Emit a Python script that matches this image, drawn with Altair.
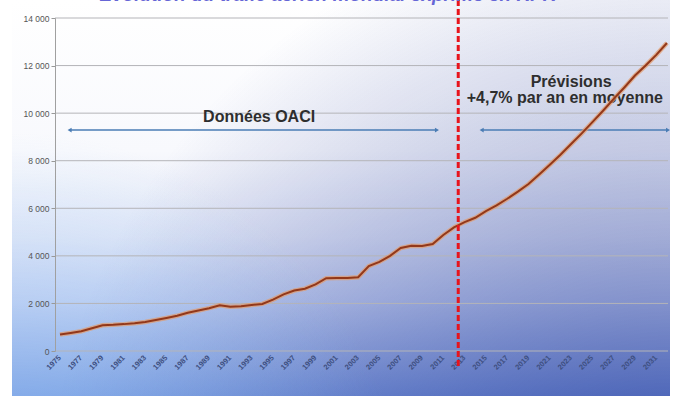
import altair as alt
import pandas as pd

# ---- data ----
years = list(range(1975, 2033))
rpk = [690, 760, 830, 960, 1080, 1100, 1130, 1170, 1220, 1300,
       1390, 1480, 1610, 1700, 1800, 1920, 1860, 1880, 1930, 1980,
       2160, 2380, 2540, 2620, 2800, 3060, 3070, 3070, 3100, 3570,
       3750, 4000, 4330, 4420, 4410, 4500, 4880, 5200, 5420, 5600,
       5880, 6120, 6400, 6700, 7020, 7420, 7830, 8250, 8700, 9150,
       9620, 10100, 10600, 11080, 11580, 12000, 12450, 12950]
x_tick_years = list(range(1975, 2032, 2))
x_tick_labels = [str(y) for y in x_tick_years]
y_ticks = [0, 2000, 4000, 6000, 8000, 10000, 12000, 14000]

title_text = "Évolution du trafic aérien mondial exprimé en RPK"
split_year = 2012.4
arrow_level = 9290
arrow_starts = [1975.9, 2014.6]
arrow_ends = [2010.4, 2032.1]
label_texts = ["Données OACI", "Prévisions", "+4,7% par an en moyenne"]
label_years = [1993.7, 2023.0, 2013.2]
label_values = [9626, 11097, 10425]
label_aligns = ["center", "center", "left"]

W, H = 613, 333
xdom = [1974.53, 2032.1]
ydom = [0, 14000]

xs = alt.Scale(domain=xdom, nice=False, zero=False)
ys = alt.Scale(domain=ydom, nice=False)

series = pd.DataFrame({"year": years, "rpk": rpk})
one = pd.DataFrame({"a": [0]})

# background gradient
base_grad = alt.LinearGradient(
    gradient="linear", x1=0, y1=0, x2=0, y2=1,
    stops=[alt.GradientStop(color="#ffffff", offset=0),
           alt.GradientStop(color="#f8f9fd", offset=0.38),
           alt.GradientStop(color="#e1e6f6", offset=0.6),
           alt.GradientStop(color="#c3cff0", offset=0.76),
           alt.GradientStop(color="#9cb1e5", offset=0.9),
           alt.GradientStop(color="#7b98dc", offset=1)])
dark_grad = alt.RadialGradient(
    gradient="radial", x1=1, y1=1, r1=0, x2=1, y2=1, r2=0.95,
    stops=[alt.GradientStop(color="rgba(35,55,150,0.62)", offset=0),
           alt.GradientStop(color="rgba(35,55,150,0)", offset=1)])
light_grad = alt.RadialGradient(
    gradient="radial", x1=0, y1=1, r1=0, x2=0, y2=1, r2=0.6,
    stops=[alt.GradientStop(color="rgba(150,205,255,0.55)", offset=0),
           alt.GradientStop(color="rgba(150,205,255,0)", offset=1)])

def bg(fill):
    return alt.Chart(one).mark_rect(fill=fill, strokeWidth=0).encode(
        x=alt.value(-43), x2=alt.value(W + 2), y=alt.value(-18), y2=alt.value(H + 45))

background = bg(base_grad) + bg(dark_grad) + bg(light_grad)

grid = alt.Chart(pd.DataFrame({"v": y_ticks})).mark_rule(
    color="#b4b4b8", strokeWidth=1).encode(
    y=alt.Y("v:Q", scale=ys), x=alt.value(0), x2=alt.value(W))

arrows_df = pd.DataFrame({"s": arrow_starts, "e": arrow_ends,
                          "v": [arrow_level] * 2})
arrow_lines = alt.Chart(arrows_df).mark_rule(
    color="#4a7cb4", strokeWidth=1.6).encode(
    x=alt.X("s:Q", scale=xs), x2="e:Q", y=alt.Y("v:Q", scale=ys))
head_l = alt.Chart(arrows_df).mark_point(
    shape="triangle-left", filled=True, color="#4a7cb4", size=22, opacity=1).encode(
    x=alt.X("s:Q", scale=xs), y=alt.Y("v:Q", scale=ys))
head_r = alt.Chart(arrows_df).mark_point(
    shape="triangle-right", filled=True, color="#4a7cb4", size=22, opacity=1).encode(
    x=alt.X("e:Q", scale=xs), y=alt.Y("v:Q", scale=ys))

lab_df = pd.DataFrame({"t": label_texts, "x": label_years, "y": label_values})
texts = []
for i in range(len(label_texts)):
    texts.append(alt.Chart(lab_df.iloc[[i]]).mark_text(
        font="Liberation Sans", fontSize=16, fontWeight="bold", color="#2e2e2e",
        align=label_aligns[i], baseline="alphabetic", clip=True).encode(
        x=alt.X("x:Q", scale=xs), y=alt.Y("y:Q", scale=ys), text="t:N"))

# x tick labels (every 2 years), rotated
xlab = alt.Chart(pd.DataFrame({"yr": x_tick_years, "lab": x_tick_labels})).mark_text(
    font="Liberation Sans", fontSize=7.5, fontWeight="bold", color="#3e4f80",
    angle=315, align="right", baseline="middle").encode(
    x=alt.X("yr:Q", scale=xs), y=alt.value(H + 6), text="lab:N")

halo = alt.Chart(series).mark_line(
    color="#e39a6a", strokeWidth=4.5, opacity=0.7).encode(
    x=alt.X("year:Q", scale=xs,
            axis=alt.Axis(labels=False, ticks=False, domain=False, grid=False,
                          title=None)),
    y=alt.Y("rpk:Q", scale=ys,
            axis=alt.Axis(values=y_ticks,
                          labelExpr="replace(format(datum.value, ','), ',', ' ')",
                          labelFontSize=8.5, labelColor="#555555",
                          labelFont="Liberation Sans",
                          tickSize=4, tickColor="#999999",
                          domainColor="#a0a0a0", grid=False,
                          labelPadding=2, title=None, zindex=1)))
core = alt.Chart(series).mark_line(color="#93381a", strokeWidth=2).encode(
    x=alt.X("year:Q", scale=xs), y=alt.Y("rpk:Q", scale=ys))

split = alt.Chart(pd.DataFrame({"x": [split_year]})).mark_rule(
    color="#e8141c", strokeWidth=3, strokeDash=[6, 3]).encode(
    x=alt.X("x:Q", scale=xs), y=alt.value(-18), y2=alt.value(H + 18))

title = alt.Chart(one).mark_text(
    text=title_text, font="Liberation Sans", fontSize=19, fontWeight="bold",
    fontStyle="italic", color="#6666d6", align="center",
    baseline="alphabetic").encode(x=alt.value(273), y=alt.value(-17))

chart = alt.layer(background, grid, arrow_lines, head_l, head_r, *texts,
                  xlab, halo, core, split, title).properties(
    width=W, height=H,
    autosize=alt.AutoSizeParams(type="none"),
    padding={"left": 55, "top": 18, "right": 13, "bottom": 45},
    background="white",
).configure_view(stroke=None)

chart.save("out.html", embed_options={"renderer": "svg", "actions": False})
